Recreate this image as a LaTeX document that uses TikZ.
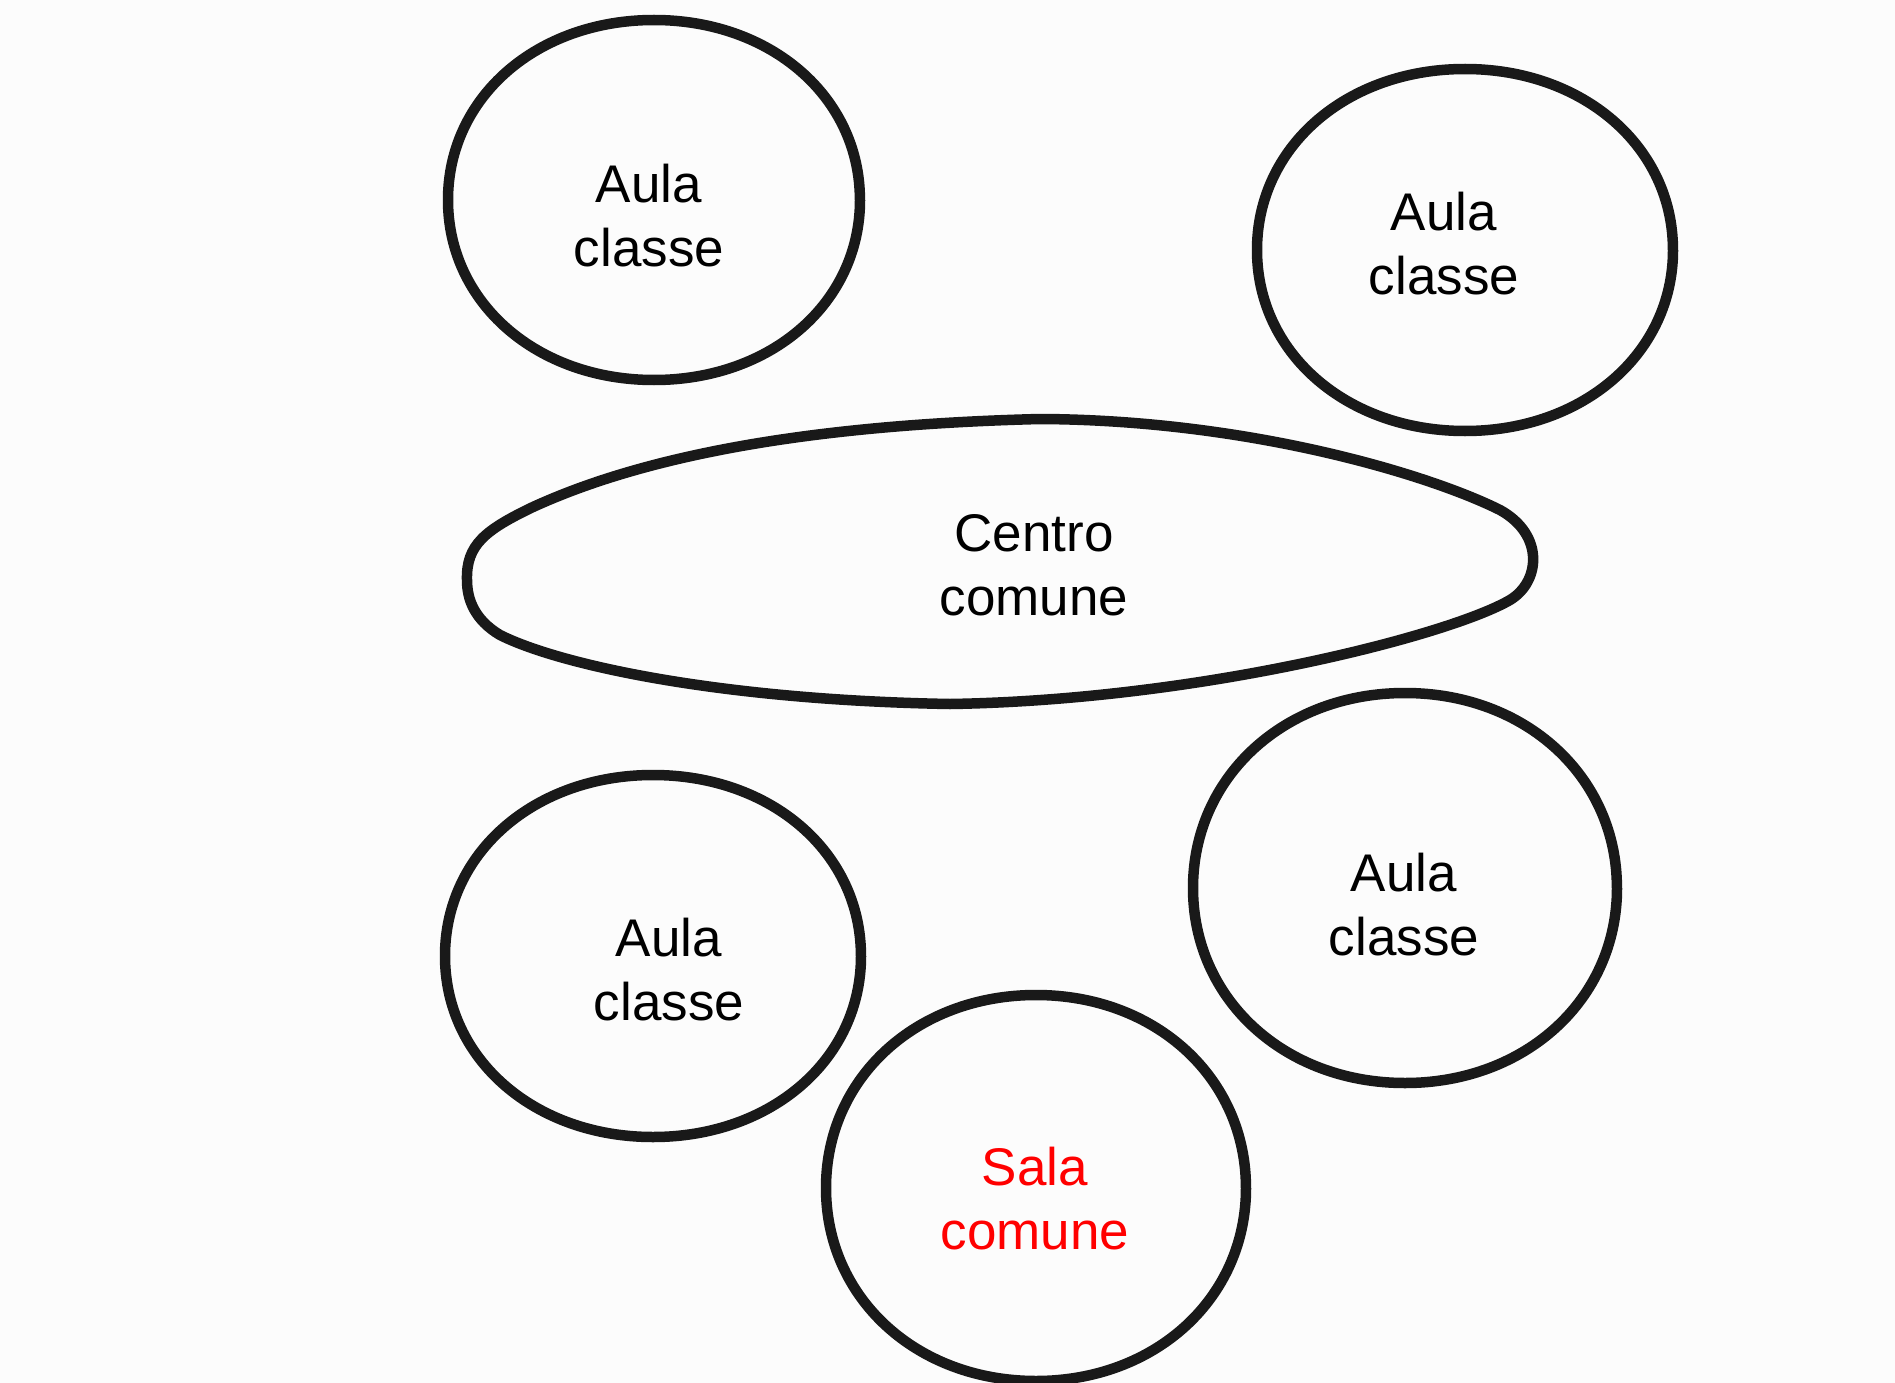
\documentclass[tikz,border=0pt]{standalone}
\usepackage{fontspec}
\setmainfont{Liberation Sans}
\begin{document}
\begin{tikzpicture}[x=1pt,y=-1pt,
  room/.style={line width=10.5pt,draw=black!90,line join=round},
  lbl/.style={align=center,font=\fontsize{53}{64}\selectfont,inner sep=0pt}]
\useasboundingbox[fill=black!1] (0,0) rectangle (1895,1383);
\def\blob{(1,0) .. controls (1,0.57) and (0.57,1) .. (0,1) .. controls (-0.57,1) and (-1,0.57) .. (-1,0) .. controls (-1,-0.57) and (-0.57,-1) .. (0,-1) .. controls (0.57,-1) and (1,-0.57) .. cycle}
% classrooms
\begin{scope}[shift={(654,200)},xscale=206,yscale=180]\draw[room] \blob;\end{scope}
\begin{scope}[shift={(1465,250)},xscale=208,yscale=181]\draw[room] \blob;\end{scope}
\begin{scope}[shift={(653,956)},xscale=208,yscale=181]\draw[room] \blob;\end{scope}
\begin{scope}[shift={(1405,888)},xscale=212,yscale=195]\draw[room] \blob;\end{scope}
% common room
\begin{scope}[shift={(1036,1188)},xscale=210,yscale=193]\draw[room] \blob;\end{scope}
% common hall
\draw[room] (467,580) .. controls (466,545) and (485,530) .. (533,507)
  .. controls (640,458) and (800,425) .. (1040,419)
  .. controls (1250,420) and (1430,475) .. (1500,510)
  .. controls (1545,535) and (1540,582) .. (1510,600)
  .. controls (1450,635) and (1200,700) .. (950,704)
  .. controls (720,700) and (560,665) .. (500,635)
  .. controls (475,620) and (467,600) .. cycle;
% labels
\node[lbl] (a1) at (649,216) {Aula\\classe};
\node[lbl] (a2) at (1444,244) {Aula\\classe};
\node[lbl] (cc) at (1034,565) {Centro\\comune};
\node[lbl] (a3) at (669,970) {Aula\\classe};
\node[lbl] (a4) at (1404,905) {Aula\\classe};
\node[lbl,text=red] (sc) at (1035,1199) {Sala\\comune};
\end{tikzpicture}
\end{document}
